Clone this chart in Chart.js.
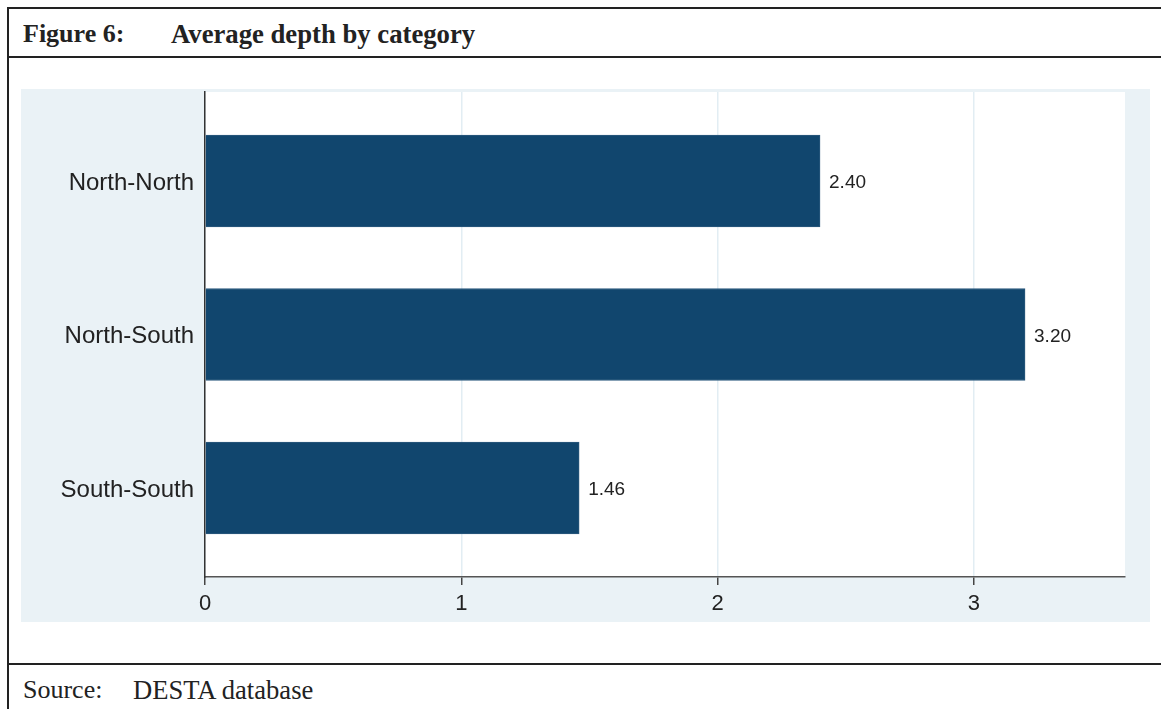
<!DOCTYPE html>
<html>
<head>
<meta charset="utf-8">
<script src="https://cdn.jsdelivr.net/npm/chart.js@4"></script>
<style>
  html, body { margin: 0; padding: 0; background: #fff; width: 1161px; height: 709px; overflow: hidden; }
  .line { position: absolute; background: #222; }
  .txt { position: absolute; font-family: "Liberation Serif", "Times New Roman", serif; color: #222; white-space: nowrap; }
  #wrap { position: absolute; left: 21px; top: 89px; width: 1129px; height: 533px; background: #eaf2f6; }
</style>
</head>
<body>
<div class="line" style="left:8px; top:7px; width:1153px; height:2px;"></div>
<div class="line" style="left:8px; top:56px; width:1153px; height:2px;"></div>
<div class="line" style="left:8px; top:663px; width:1153px; height:2px;"></div>
<div class="line" style="left:7px; top:7px; width:2px; height:702px;"></div>
<div class="txt" style="left:23px; top:19px; font-size:26px; font-weight:bold;">Figure 6:</div>
<div class="txt" style="left:171px; top:19px; font-size:26.7px; font-weight:bold;">Average depth by category</div>
<div class="txt" style="left:23px; top:675px; font-size:26px;">Source:</div>
<div class="txt" style="left:133px; top:675px; font-size:26.6px;">DESTA database</div>
<div id="wrap"><canvas id="depthChart" width="1129" height="533"></canvas></div>
<script>
const categories = ['North-North', 'North-South', 'South-South'];
const depthValues = [2.40, 3.20, 1.46];
const xTicks = [0, 1, 2, 3];

const whiteArea = {
  id: 'whiteArea',
  beforeDraw(chart) {
    const a = chart.chartArea;
    const c = chart.ctx;
    c.save();
    c.fillStyle = '#ffffff';
    c.fillRect(a.left, a.top, a.right - a.left, a.bottom - a.top);
    c.restore();
  }
};

const valueLabels = {
  id: 'valueLabels',
  afterDatasetsDraw(chart) {
    const c = chart.ctx;
    c.save();
    c.font = '19px "Liberation Sans", Arial, sans-serif';
    c.fillStyle = '#222';
    c.textBaseline = 'middle';
    chart.getDatasetMeta(0).data.forEach((bar, i) => {
      c.fillText(depthValues[i].toFixed(2), bar.x + 9, bar.y + 2);
    });
    c.restore();
  }
};

const ctx = document.getElementById('depthChart').getContext('2d');
const depthChart = new Chart(ctx, {
  type: 'bar',
  data: {
    datasets: [{
      data: depthValues.map((v, i) => ({ x: v, y: i })),
      backgroundColor: '#11466e',
      borderColor: '#2c5a7e',
      borderWidth: 1,
      barThickness: 92
    }]
  },
  options: {
    indexAxis: 'y',
    responsive: false,
    animation: false,
    layout: { padding: { top: 3, right: 25, left: 0, bottom: 0 } },
    plugins: { legend: { display: false }, tooltip: { enabled: false } },
    scales: {
      x: {
        type: 'linear',
        min: 0,
        max: 3.59,
        afterBuildTicks: s => { s.ticks = xTicks.map(v => ({ value: v })); },
        afterFit: s => { s.height = 45; s.paddingRight = 0; },
        grid: { color: '#e2edf3', lineWidth: 1.5, tickColor: '#444', tickLength: 8 },
        border: { color: '#555', width: 1.5 },
        ticks: { color: '#222', padding: 6, font: { family: '"Liberation Sans", Arial, sans-serif', size: 22 } }
      },
      y: {
        type: 'linear',
        offset: false,
        min: -0.58,
        max: 2.58,
        reverse: true,
        afterBuildTicks: s => { s.ticks = categories.map((c, i) => ({ value: i })); },
        afterFit: s => { s.width = 184; s.paddingTop = 0; s.paddingBottom = 0; },
        grid: { display: false, drawTicks: false },
        border: { color: '#333', width: 1.5 },
        ticks: {
          color: '#222',
          padding: 11,
          labelOffset: 2,
          font: { family: '"Liberation Sans", Arial, sans-serif', size: 24 },
          callback: v => categories[v]
        }
      }
    }
  },
  plugins: [whiteArea, valueLabels]
});
</script>
</body>
</html>
